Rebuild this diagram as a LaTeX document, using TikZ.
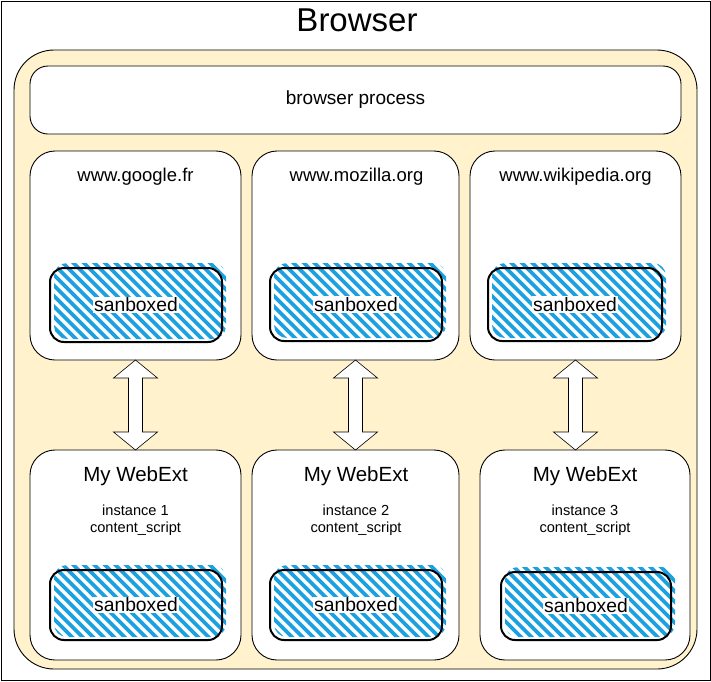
\documentclass[tikz,border=0pt]{standalone}
\usepackage{fontspec}
\setmainfont{Liberation Sans}
\usetikzlibrary{calc}
\definecolor{contfill}{HTML}{FFF2CC}
\definecolor{hatchblue}{HTML}{1BA1E2}
\newcommand{\rbox}[7]{%
  \node[draw=black, line width=0.9pt, fill=#7, rounded corners=#6, inner sep=0pt, outer sep=0pt,
        minimum width={#4-#2}, minimum height={#5-#3}] (#1) at ({(#2+#4)/2},{(#3+#5)/2}) {};}
\newcommand{\sandbox}[5]{%
  \begin{scope}
    \clip[rounded corners=13pt] ({#2+4},{#3-5}) rectangle ({#4+4},{#5-3});
    \foreach \t in {0,10.5,...,290}{
      \draw[hatchline] ({#2-95+\t},{#3-8}) -- ++(90,90);
    }
  \end{scope}
  \node[sbox, minimum width={#4-#2}, minimum height={#5-#3}] (#1) at ({(#2+#4)/2},{(#3+#5)/2}) {};
  \node[sblabel] (#1t) at (#1.center) {sanboxed};}
\newcommand{\dblarrow}[3]{%
  \draw[barrow] let \p1=(#1.south), \p2=(#2.north), \p3=(#3) in
    (\x3,\y1) -- (\x3+22,\y1-18) -- (\x3+7,\y1-18) -- (\x3+7,\y2+18) -- (\x3+22,\y2+18) --
    (\x3,\y2) -- (\x3-22,\y2+18) -- (\x3-7,\y2+18) -- (\x3-7,\y1-18) -- (\x3-22,\y1-18) -- cycle;}
\begin{document}
\begin{tikzpicture}[x=1pt,y=-1pt,
  hatchline/.style={draw=hatchblue, line width=3.8pt},
  sbox/.style={draw=black, line width=2pt, rounded corners=14pt, inner sep=0pt, outer sep=0pt},
  sblabel/.style={fill=white, inner sep=1pt, font=\fontsize{19.3}{21}\selectfont},
  barrow/.style={draw=black, line width=0.6pt, fill=white},
  sitetitle/.style={font=\fontsize{18.5}{20}\selectfont},
  exttitle/.style={font=\fontsize{20.5}{22}\selectfont},
  extsub/.style={font=\fontsize{14.6}{16.5}\selectfont, align=center}]
\useasboundingbox (0,0) rectangle (711,681);
\node[draw=black, line width=1pt, minimum width=709pt, minimum height=679pt, inner sep=0pt] (frame) at (355.5,340.5) {};
\node[font=\fontsize{33}{35}\selectfont] (title) at (357,20) {Browser};
\rbox{cont}{14}{50}{697}{669}{40pt}{contfill}
\rbox{bp}{30}{66}{681}{134}{18pt}{white}
\node[font=\fontsize{19}{21}\selectfont] (bpt) at (bp.center) {browser process};
\rbox{s1}{30}{151}{241}{360}{25pt}{white}
\rbox{s2}{252}{151}{459}{360}{25pt}{white}
\rbox{s3}{470}{151}{681}{360}{25pt}{white}
\node[sitetitle] (s1t) at (135.5,177) {www.google.fr};
\node[sitetitle] (s2t) at (356.5,177) {www.mozilla.org};
\node[sitetitle] (s3t) at (575.5,177) {www.wikipedia.org};
\sandbox{sb1}{50}{268}{222}{342}
\sandbox{sb2}{270}{268}{442}{341}
\sandbox{sb3}{488}{268}{662}{341}
\rbox{w1}{30}{450}{241}{660}{25pt}{white}
\rbox{w2}{252}{450}{459}{660}{25pt}{white}
\rbox{w3}{480}{450}{690}{660}{25pt}{white}
\node[exttitle] (w1t) at (135.5,476) {My WebExt};
\node[exttitle] (w2t) at (356,476) {My WebExt};
\node[exttitle] (w3t) at (585,476) {My WebExt};
\node[extsub] (w1s) at (135.5,520) {instance 1\\content\_script};
\node[extsub] (w2s) at (356,520) {instance 2\\content\_script};
\node[extsub] (w3s) at (585,520) {instance 3\\content\_script};
\sandbox{sb4}{50}{570}{222}{640}
\sandbox{sb5}{270}{570}{442}{640}
\sandbox{sb6}{501}{572}{671}{640}
\dblarrow{s1}{w1}{s1.south}
\dblarrow{s2}{w2}{s2.south}
\dblarrow{s3}{w3}{s3.south}
\end{tikzpicture}
\end{document}
